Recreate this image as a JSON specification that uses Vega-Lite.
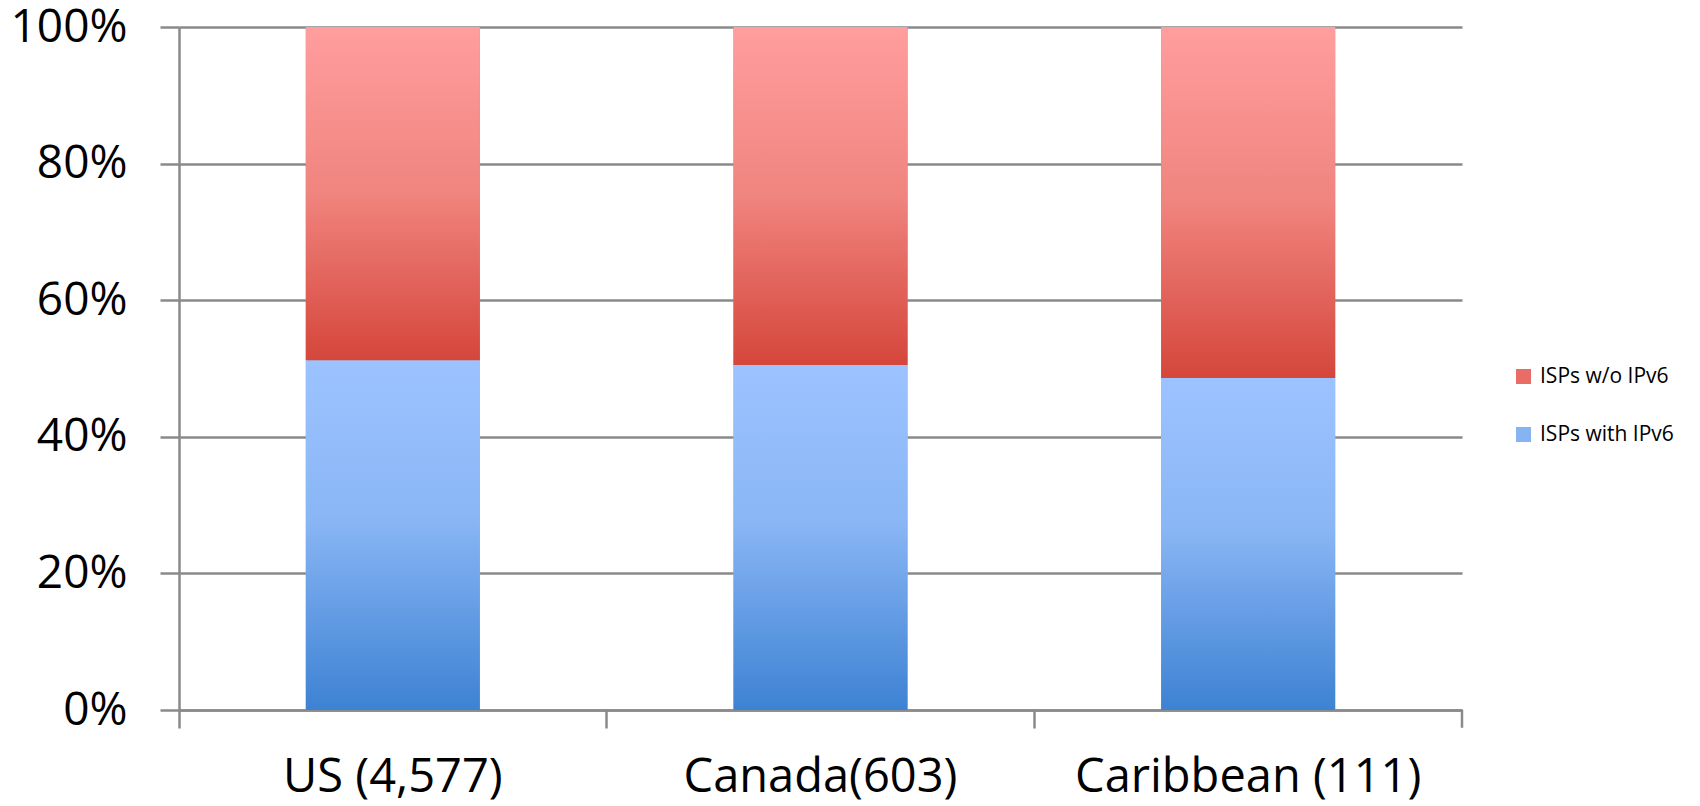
{
  "$schema": "https://vega.github.io/schema/vega-lite/v6.json",
  "width": 1283,
  "height": 683,
  "autosize": "none",
  "padding": {"left": 179, "top": 27, "right": 238, "bottom": 96},
  "background": "white",
  "config": {
    "view": {"stroke": null},
    "font": "Open Sans",
    "axis": {"labelColor": "#000000", "labelFont": "Open Sans"},
    "legend": {"labelFont": "Open Sans"}
  },
  "data": {
    "values": [
      {"region": "US (4,577)", "series": "ISPs with IPv6", "value": 0.512, "order": 1},
      {"region": "US (4,577)", "series": "ISPs w/o IPv6", "value": 0.488, "order": 2},
      {"region": "Canada(603)", "series": "ISPs with IPv6", "value": 0.505, "order": 1},
      {"region": "Canada(603)", "series": "ISPs w/o IPv6", "value": 0.495, "order": 2},
      {"region": "Caribbean (111)", "series": "ISPs with IPv6", "value": 0.486, "order": 1},
      {"region": "Caribbean (111)", "series": "ISPs w/o IPv6", "value": 0.514, "order": 2}
    ]
  },
  "layer": [
    {
      "mark": {"type": "bar"},
      "encoding": {
        "x": {
          "field": "region", "type": "nominal", "sort": null,
          "scale": {"paddingInner": 0.593, "paddingOuter": 0.2965},
          "axis": {
            "title": null, "labelAngle": 0, "labelFontSize": 47, "labelPadding": 26, "labelLimit": 0,
            "domainColor": "#8a8a8a", "domainWidth": 2.5,
            "tickColor": "#8a8a8a", "tickWidth": 2.5, "tickSize": 18, "bandPosition": -0.7285,
            "grid": false
          }
        },
        "y": {
          "field": "value", "type": "quantitative", "stack": "zero",
          "scale": {"domain": [0, 1], "nice": false},
          "axis": {
            "title": null, "values": [0, 0.2, 0.4, 0.6, 0.8, 1], "format": ".0%",
            "labelFontSize": 46, "labelPadding": 33,
            "domainColor": "#8a8a8a", "domainWidth": 2.5,
            "tickColor": "#8a8a8a", "tickWidth": 2.5, "tickSize": 19,
            "grid": true, "gridColor": "#8a8a8a", "gridWidth": 2.5
          }
        },
        "color": {
          "field": "series", "type": "nominal",
          "scale": {"domain": ["ISPs w/o IPv6", "ISPs with IPv6"], "range": ["#e96c66", "#86b3f2"]},
          "legend": {
            "title": null, "orient": "none", "legendX": 1334, "legendY": 339,
            "symbolType": "square", "symbolSize": 225, "symbolStrokeWidth": 0,
            "labelFontSize": 21, "labelOffset": 6, "rowPadding": 36, "labelColor": "#000000"
          }
        },
        "order": {"field": "order", "type": "quantitative"}
      }
    },
    {
      "transform": [
        {"stack": "value", "groupby": ["region"], "sort": [{"field": "order"}], "as": ["v0", "v1"]},
        {"filter": "datum.series === 'ISPs with IPv6'"}
      ],
      "mark": {
        "type": "bar",
        "color": {
          "gradient": "linear", "x1": 0, "y1": 0, "x2": 0, "y2": 1,
          "stops": [
            {"offset": 0, "color": "#9cc3ff"},
            {"offset": 0.45, "color": "#8ab6f5"},
            {"offset": 1, "color": "#3d82d3"}
          ]
        }
      },
      "encoding": {
        "x": {"field": "region", "type": "nominal", "sort": null},
        "y": {"field": "v0", "type": "quantitative"},
        "y2": {"field": "v1"}
      }
    },
    {
      "transform": [
        {"stack": "value", "groupby": ["region"], "sort": [{"field": "order"}], "as": ["v0", "v1"]},
        {"filter": "datum.series === 'ISPs w/o IPv6'"}
      ],
      "mark": {
        "type": "bar",
        "color": {
          "gradient": "linear", "x1": 0, "y1": 0, "x2": 0, "y2": 1,
          "stops": [
            {"offset": 0, "color": "#ff9e9e"},
            {"offset": 0.5, "color": "#f0847e"},
            {"offset": 1, "color": "#d5463b"}
          ]
        }
      },
      "encoding": {
        "x": {"field": "region", "type": "nominal", "sort": null},
        "y": {"field": "v0", "type": "quantitative"},
        "y2": {"field": "v1"}
      }
    },
    {
      "data": {"values": [{"k": 1}]},
      "mark": {"type": "rule", "color": "#8a8a8a", "strokeWidth": 2.5},
      "encoding": {
        "x": {"datum": "Caribbean (111)", "type": "nominal", "bandPosition": 1.7285},
        "y": {"datum": 0, "type": "quantitative"},
        "y2": {"datum": -0.026}
      }
    }
  ]
}
